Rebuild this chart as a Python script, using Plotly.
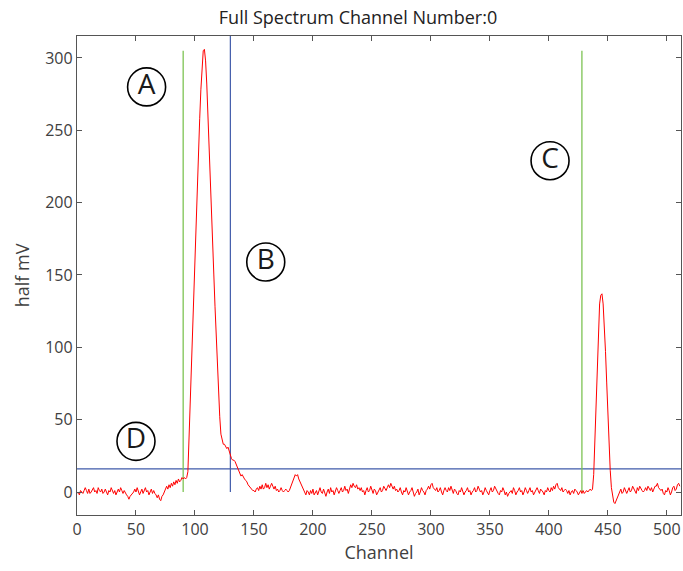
import plotly.graph_objects as go

# ---- data ----
spectrum = [
    -1, 0, -2, 1, 0, -1, 1, 3, 1, -1, 2, -1, 0, 2, 3, 0,
    1, -1, 3, 1, 0, 2, -1, 0, 2, 0, -2, 1, 0, 3, 1, -1,
    1, -2, 0, 2, 0, 3, 1, -1, 1, -1, -2, -3, -5, -3, -2, -1,
    0, 2, 0, 3, 1, -2, 0, 2, -1, 1, 3, 0, 1, -2, 0, 2,
    -1, 1, -1, -2, -4, -2, -5, -6, -3, -2, 0, 2, 4, 2, 5, 3,
    6, 4, 7, 5, 8, 6, 9, 7, 8, 10, 9, 10, 9, 10, 14, 38,
    64, 90, 116, 142, 166, 190, 213, 236, 258, 278, 295, 305, 306, 298, 282, 262,
    241, 219, 196, 173, 150, 128, 107, 87, 68, 52, 40, 35, 33, 33, 31, 30,
    31, 28, 26, 23, 22, 22, 21, 19, 17, 15, 12, 11, 12, 10, 9, 8,
    7, 5, 4, 3, 2, 1, 1, 0, 2, 3, 1, 4, 2, 5, 2, 3,
    6, 3, 5, 2, 4, 6, 4, 2, 4, 1, 2, 0, 1, 3, 1, 0,
    1, 2, 1, 0, 1, 3, 5, 8, 10, 12, 11, 12, 9, 7, 5, 3,
    1, -1, -2, 1, 0, -2, 1, -1, 2, -2, 0, 1, -2, 0, 3, 0,
    -1, 2, 0, -3, 0, 2, -1, 3, 0, 1, -2, 0, 3, 1, -1, 1,
    3, 0, 1, 4, 1, 2, -1, 2, 5, 3, 6, 4, 3, 5, 2, 3,
    1, 3, 0, 1, -2, 1, 3, 0, 1, 4, 1, -1, 2, 1, -2, 0,
    1, 3, 0, 1, 4, 2, 1, 3, 5, 3, 6, 4, 2, 4, 1, 2,
    0, 1, 3, 0, -2, 1, 0, 3, 1, -2, 0, 1, 3, 0, -3, -1,
    0, 2, -2, 0, 3, 1, 0, -2, 1, 2, 4, 2, 5, 6, 3, 2,
    1, 3, 0, 1, 3, 0, -2, 1, 3, 1, 0, 3, 1, 4, 1, -1,
    2, 1, -1, -2, 1, 0, 3, 1, -2, 0, 1, 3, 0, 1, -2, 0,
    1, 3, 0, 1, 4, 2, 0, 1, -2, 0, 3, 1, -1, -2, 1, 3,
    0, 1, 4, 2, 1, -1, -2, 1, 0, 3, 1, -2, 0, -3, -1, 0,
    1, -1, 3, 1, -2, 0, 1, 3, 0, 1, -2, 0, 3, 1, -1, 1,
    3, 0, 1, -2, 0, 1, 3, 1, -1, 2, 1, 0, -2, 1, 0, 3,
    1, 0, 3, 1, 4, 2, 5, 6, 3, 2, 1, 3, 0, 1, 2, 1,
    -1, 1, -2, 0, 1, -1, 2, 1, 0, -2, 0, 1, -1, 1, -1, 0,
    1, 0, 1, 2, 1, 2, 12, 36, 65, 93, 116, 130, 136, 137, 130, 116,
    97, 76, 54, 33, 15, 3, -4, -7, -8, -6, -3, -1, 0, 2, -1, 0,
    3, 1, -1, 1, 3, 0, 1, 4, 2, 1, -1, 3, 1, 4, 2, 1,
    0, 1, 3, 1, 4, 2, 1, 3, 0, 2, 4, 4, 6, 3, 2, 1,
    2, -1, -2, 1, 0, 3, 1, -2, 0, 3, 4, 1, 2, 5, 6, 4,
]
channels = list(range(len(spectrum)))

green_markers_x = [90, 428]
green_marker_top = 305
blue_marker_x = 130
threshold = 16

label_text = ["A", "B", "C", "D"]
label_x = [59, 160, 401, 50]
label_y = [280, 159, 229, 35]

x_ticks = [0, 50, 100, 150, 200, 250, 300, 350, 400, 450, 500]
y_ticks = [0, 50, 100, 150, 200, 250, 300]

FONT = "Open Sans"
GREEN = "#7DC353"
BLUE = "#3F5AAA"

W, H = 683, 571

fig = go.Figure()

# threshold line (D)
fig.add_trace(go.Scatter(x=[0, 512], y=[threshold, threshold], mode="lines",
                         line=dict(color=BLUE, width=1.2), hoverinfo="skip"))
# green vertical markers (A, C)
for gx in green_markers_x:
    fig.add_trace(go.Scatter(x=[gx, gx], y=[0, green_marker_top], mode="lines",
                             line=dict(color=GREEN, width=1.3), hoverinfo="skip"))
# blue vertical marker (B)
fig.add_trace(go.Scatter(x=[blue_marker_x, blue_marker_x], y=[0, 400], mode="lines",
                         line=dict(color=BLUE, width=1.2), hoverinfo="skip"))
# spectrum
fig.add_trace(go.Scatter(x=channels, y=spectrum, mode="lines",
                         line=dict(color="#FF0000", width=1)))
# circled labels
fig.add_trace(go.Scatter(x=label_x, y=label_y, mode="markers+text",
                         text=label_text, textposition="middle center",
                         textfont=dict(family=FONT, size=28, color="#1a1a1a"),
                         marker=dict(symbol="circle", size=38, color="rgba(0,0,0,0)",
                                     line=dict(color="#000000", width=1.6)),
                         cliponaxis=False, hoverinfo="skip"))

axis_common = dict(
    showline=True, linecolor="#555555", linewidth=1.3, mirror="ticks",
    ticks="inside", ticklen=5, tickwidth=1.2, tickcolor="#555555",
    showgrid=False, zeroline=False, automargin=False,
    tickfont=dict(family=FONT, size=16, color="#404040"),
)

fig.update_layout(
    width=W, height=H,
    margin=dict(l=77, r=2, t=36, b=56),
    paper_bgcolor="white", plot_bgcolor="white",
    showlegend=False,
    title=dict(text="Full Spectrum Channel Number:0", x=358 / W, xanchor="center",
               y=1 - 18 / H, yanchor="middle", automargin=False,
               font=dict(family=FONT, size=18, color="#222222")),
    xaxis=dict(range=[0, 512], tickvals=x_ticks,
               title=dict(text="Channel", standoff=7,
                          font=dict(family=FONT, size=18, color="#404040")),
               **axis_common),
    yaxis=dict(range=[-15.9, 315.2], tickvals=y_ticks,
               title=dict(text="half mV", standoff=10,
                          font=dict(family=FONT, size=18, color="#404040")),
               **axis_common),
)

fig.write_html("out.html", config={"displayModeBar": False},
               post_script="document.body.style.margin='0';document.body.style.overflow='hidden';")
